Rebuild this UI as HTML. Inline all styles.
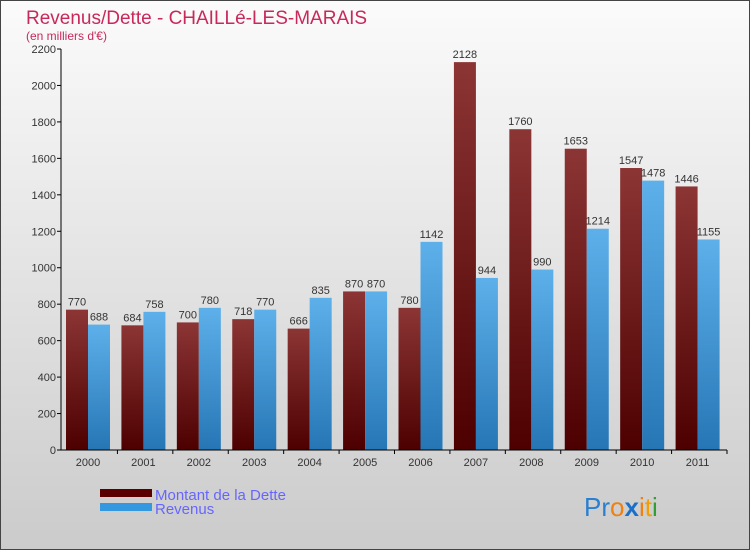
<!DOCTYPE html>
<html><head><meta charset="utf-8"><style>
body{margin:0}
svg{display:block;font-family:"Liberation Sans",sans-serif}
</style></head><body>
<svg id="c" width="750" height="550" viewBox="0 0 750 550">
<defs>
<linearGradient id="bg" x1="0" y1="0" x2="0" y2="1"><stop offset="0" stop-color="#fbfbfb"/><stop offset="1" stop-color="#cbcbcb"/></linearGradient>
<linearGradient id="gd" x1="0" y1="0" x2="0" y2="1"><stop offset="0" stop-color="#8c3535"/><stop offset="1" stop-color="#4d0000"/></linearGradient>
<linearGradient id="gr" x1="0" y1="0" x2="0" y2="1"><stop offset="0" stop-color="#5db0ea"/><stop offset="1" stop-color="#2676b5"/></linearGradient>
</defs>
<rect x="0.5" y="0.5" width="749" height="549" fill="url(#bg)" stroke="#444"/>
<text x="26" y="24" font-size="19" fill="#c8285a">Revenus/Dette - CHAILLé-LES-MARAIS</text>
<text x="26" y="40" font-size="12" fill="#c8285a">(en milliers d'€)</text>
<g id="bars"></g>
<g id="axes"></g>
<rect x="100" y="489" width="52" height="8" fill="#5a0000"/>
<text x="155" y="500" font-size="15" fill="#6666ff">Montant de la Dette</text>
<rect x="100" y="503" width="52" height="8" fill="#3398e0"/>
<text x="155" y="514" font-size="15" fill="#6666ff">Revenus</text>
<g font-size="26">
<text x="584" y="516"><tspan fill="#2a7fd0">Pr</tspan><tspan fill="#f08010">o</tspan><tspan fill="#1a70c8" font-weight="bold">x</tspan><tspan fill="#f08010">i</tspan><tspan fill="#f0a000">t</tspan><tspan fill="#30a030">i</tspan></text>
</g>
</svg>
<script>
const years=["2000","2001","2002","2003","2004","2005","2006","2007","2008","2009","2010","2011"];
const dette=[770,684,700,718,666,870,780,2128,1760,1653,1547,1446];
const revenus=[688,758,780,770,835,870,1142,944,990,1214,1478,1155];
const yTicks=[0,200,400,600,800,1000,1200,1400,1600,1800,2000,2200];
const NS="http://www.w3.org/2000/svg";
const x0=62,x1=727,yb=450,yt=49,ymax=2200;
const gw=(x1-x0)/years.length;
const y=v=>yb-(v/ymax)*(yb-yt);
function mk(t,a,p){const e=document.createElementNS(NS,t);for(const k in a)e.setAttribute(k,a[k]);p.appendChild(e);return e;}
const bars=document.getElementById('bars'),axes=document.getElementById('axes');
years.forEach((yr,i)=>{
  const s=x0+i*gw;
  const b1=mk('rect',{x:s+4,y:y(dette[i]),width:22,height:yb-y(dette[i]),fill:'url(#gd)'},bars);
  
  
  const b2=mk('rect',{x:s+26,y:y(revenus[i]),width:22,height:yb-y(revenus[i]),fill:'url(#gr)'},bars);
  
  
  const l1=mk('text',{x:s+15,y:y(dette[i])-4,'font-size':11,fill:'#333','text-anchor':'middle'},bars);
  l1.textContent=dette[i];
  
  
  const l2=mk('text',{x:s+37,y:y(revenus[i])-4,'font-size':11,fill:'#333','text-anchor':'middle'},bars);
  l2.textContent=revenus[i];
  
  
  const xl=mk('text',{x:s+26,y:466,'font-size':11,fill:'#333','text-anchor':'middle'},axes);
  xl.textContent=yr;
  
  
  mk('line',{x1:s+gw,x2:s+gw,y1:yb,y2:yb+4,stroke:'#000'},axes);
});
yTicks.forEach(v=>{
  mk('line',{x1:57,x2:61,y1:y(v),y2:y(v),stroke:'#000'},axes);
  const t=mk('text',{x:56,y:y(v)+4,'font-size':11,fill:'#333','text-anchor':'end'},axes);
  t.textContent=v;
  
  
});
const ya=mk('line',{x1:61,x2:61,y1:yt,y2:yb,stroke:'#000'},axes);


const xa=mk('line',{x1:61,x2:x1,y1:yb,y2:yb,stroke:'#000'},axes);


</script>
</body></html>
